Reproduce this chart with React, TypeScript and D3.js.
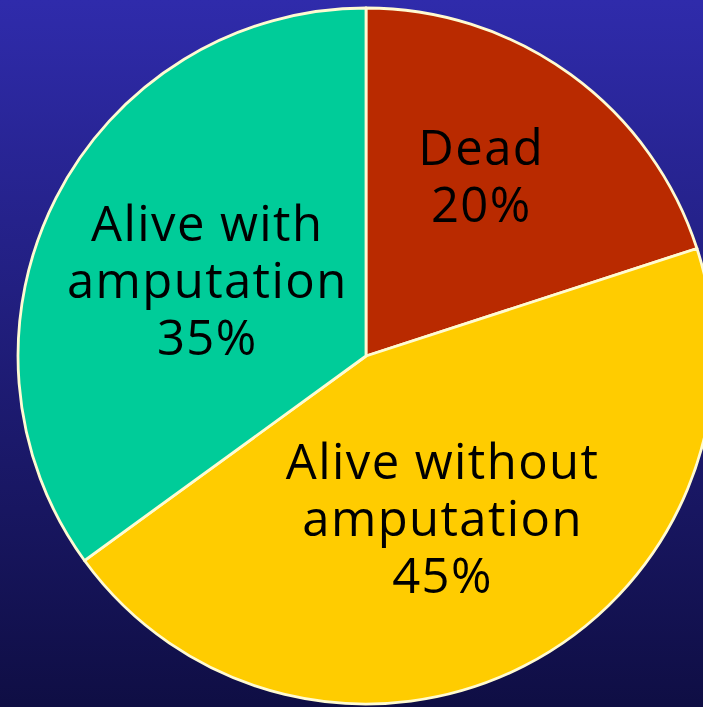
import React from "react";
import * as d3 from "d3";

const categories = ["Dead", "Alive without amputation", "Alive with amputation"];
const values = [20, 45, 35];
const labelLines = [["Dead", "20%"], ["Alive without", "amputation", "45%"], ["Alive with", "amputation", "35%"]];
const colors = ["#b92a00", "#ffcc00", "#00cc99"];
// label placement: radius factor and angular shift (degrees) relative to slice mid-angle
const labelRadius = [0.615, 0.515, 0.505];
const labelShift = [-3.4, 1.7, -1.6];

const W = 703;
const H = 707;

export default function App() {
  const cx = 366;
  const cy = 356;
  const R = 348;
  const pie = d3.pie<number>().sort(null).value((d) => d);
  const arcs = pie(values);
  const arc = d3.arc<d3.PieArcDatum<number>>().innerRadius(0).outerRadius(R);
  const fontSize = 49;
  const lineH = 57;
  const capH = fontSize * 0.714;

  return (
    <svg width={W} height={H} style={{ position: "fixed", left: 0, top: 0 }}>
      <defs>
        <linearGradient id="bg" x1="0" y1="0" x2="0" y2="1">
          <stop offset="0" stopColor="#2f2bab" />
          <stop offset="1" stopColor="#0f0e44" />
        </linearGradient>
      </defs>
      <rect width={W} height={H} fill="url(#bg)" />
      <g transform={`translate(${cx},${cy})`}>
        {arcs.map((a, i) => (
          <path key={categories[i]} d={arc(a) || ""} fill={colors[i]} stroke="#fffbd2" strokeWidth={2.8} strokeLinejoin="round" />
        ))}
        {arcs.map((a, i) => {
          const mid = (a.startAngle + a.endAngle) / 2 + (labelShift[i] * Math.PI) / 180;
          const r = R * labelRadius[i];
          const x = r * Math.sin(mid);
          const y = -r * Math.cos(mid);
          const lines = labelLines[i];
          const n = lines.length;
          return (
            <g key={"l" + i}>
              {lines.map((t, j) => (
                <text
                  key={j}
                  x={x}
                  y={y + capH / 2 + (j - (n - 1) / 2) * lineH}
                  textAnchor="middle"
                  fontFamily="'Open Sans', sans-serif"
                  fontSize={fontSize}
                  letterSpacing={1.4}
                  fill="#000"
                >
                  {t}
                </text>
              ))}
            </g>
          );
        })}
      </g>
    </svg>
  );
}
